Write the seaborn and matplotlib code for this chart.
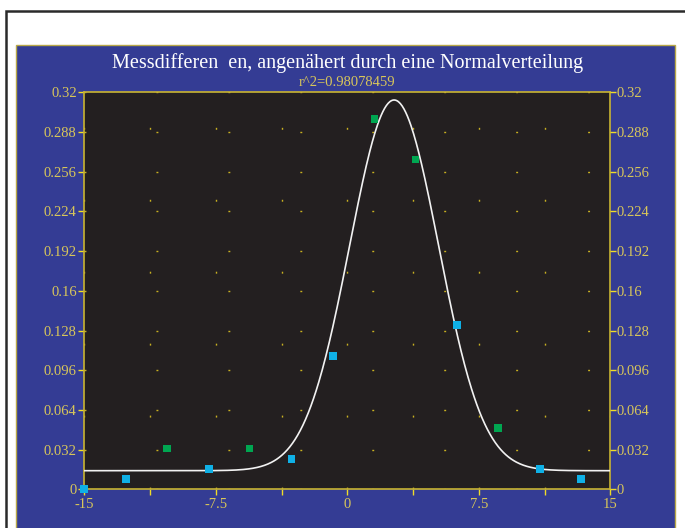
import numpy as np
import pandas as pd
import matplotlib
matplotlib.use("Agg")
import matplotlib.pyplot as plt
import seaborn as sns
from matplotlib.patches import Rectangle

# ---------------- data ----------------
title = "Messdifferen  en, angenähert durch eine Normalverteilung"
subtitle = "r^2=0.98078459"

green_x = [-10.27, -5.57, 1.56, 3.88, 8.61]
green_y = [0.0330, 0.0330, 0.2987, 0.2657, 0.0494]

cyan_x = [-15.0, -12.62, -7.89, -3.19, -0.80, 6.26, 10.99, 13.33]
cyan_y = [0.0, 0.0081, 0.0164, 0.0244, 0.1074, 0.1325, 0.0164, 0.0081]

# fitted normal distribution parameters
fit_offset = 0.0150
fit_amp = 0.2988
fit_mu = 2.67
fit_sigma = 2.54

x_ticks = [-15, -11.25, -7.5, -3.75, 0, 3.75, 7.5, 11.25, 15]
x_labels = ["-15", "", "-7.5", "", "0", "", "7.5", "", "15"]
y_ticks = [0, 0.032, 0.064, 0.096, 0.128, 0.16, 0.192, 0.224, 0.256, 0.288, 0.32]
y_labels = ["0", "0.032", "0.064", "0.096", "0.128", "0.16", "0.192",
            "0.224", "0.256", "0.288", "0.32"]

# ---------------- style ----------------
sns.set_style("dark")
plt.rcParams["font.family"] = ["Liberation Serif", "DejaVu Serif"]

W, H = 685, 528
BLUE = "#343C94"
DARK = "#231F20"
SPINE = "#C8B432"
TICKC = "#F0DC28"
LABC = "#D8C65A"

fig = plt.figure(figsize=(W / 100, H / 100), dpi=100, facecolor="white")

def fx(px):
    return px / W

def fy(py):
    return 1 - py / H

# outer black frame
fig.patches.append(Rectangle((fx(6), fy(H + 20)), 2, fy(11) - fy(H + 20),
                             transform=fig.transFigure, facecolor="none",
                             edgecolor="#2a2a2a", linewidth=1.8, zorder=-10))
# blue panel
fig.patches.append(Rectangle((fx(16), fy(H + 20)), fx(675) - fx(16), fy(45) - fy(H + 20),
                             transform=fig.transFigure, facecolor=BLUE,
                             edgecolor="#B8A848", linewidth=1.0, zorder=-9))

left, right, top, bottom = 84.3, 610.3, 92.3, 489.3
ax = fig.add_axes([fx(left), fy(bottom), fx(right) - fx(left), fy(top) - fy(bottom)])
ax.set_facecolor(DARK)

# sparse dotted grid
grid_style = dict(color="#C8B020", linewidth=1.0, linestyle=(0, (1.4, 50.4)))
ax.grid(True, axis="both", **grid_style)
ax.set_axisbelow(True)

# fitted curve
curve_x = np.linspace(-15, 15, 600)
curve_df = pd.DataFrame({
    "x": curve_x,
    "y": fit_offset + fit_amp * np.exp(-0.5 * ((curve_x - fit_mu) / fit_sigma) ** 2),
})
sns.lineplot(data=curve_df, x="x", y="y", ax=ax, color="#F2F2F2",
             linewidth=1.2, zorder=3)

green_df = pd.DataFrame({"x": green_x, "y": green_y})
cyan_df = pd.DataFrame({"x": cyan_x, "y": cyan_y})
sns.scatterplot(data=green_df, x="x", y="y", ax=ax, marker="s", s=30,
                color="#00A651", edgecolor="none", zorder=4, clip_on=False)
sns.scatterplot(data=cyan_df, x="x", y="y", ax=ax, marker="s", s=30,
                color="#0FB0E6", edgecolor="none", zorder=4, clip_on=False)

ax.set_xlim(-15, 15)
ax.set_ylim(0, 0.32)
ax.set_xlabel("")
ax.set_ylabel("")
ax.set_xticks(x_ticks)
ax.set_xticklabels(x_labels)
ax.set_yticks(y_ticks)
ax.set_yticklabels(y_labels)

for sp in ax.spines.values():
    sp.set_visible(True)
    sp.set_color(SPINE)
    sp.set_linewidth(1.2)

ax.tick_params(axis="both", which="both", colors=TICKC, labelcolor=LABC,
               labelsize=10.5, length=4, width=1.0, direction="out", pad=1.5)
ax.tick_params(axis="x", pad=2.5)
ax.tick_params(left=True, bottom=True)

ax2 = ax.twinx()
ax2.set_ylim(0, 0.32)
ax2.set_yticks(y_ticks)
ax2.set_yticklabels(y_labels)
ax2.grid(False)
ax2.set_facecolor("none")
for sp in ax2.spines.values():
    sp.set_visible(False)
ax2.tick_params(axis="y", colors=TICKC, labelcolor=LABC, labelsize=10.5,
                length=4, width=1.0, direction="out", pad=0.5, right=True)

cx = fx((left + right) / 2)
fig.text(cx, fy(63), title, ha="center", va="center", color="white",
         fontsize=14.5)
fig.text(cx, fy(83), subtitle, ha="center", va="center", color=LABC,
         fontsize=10.5)

fig.savefig("out.png", dpi=100, facecolor="white")
